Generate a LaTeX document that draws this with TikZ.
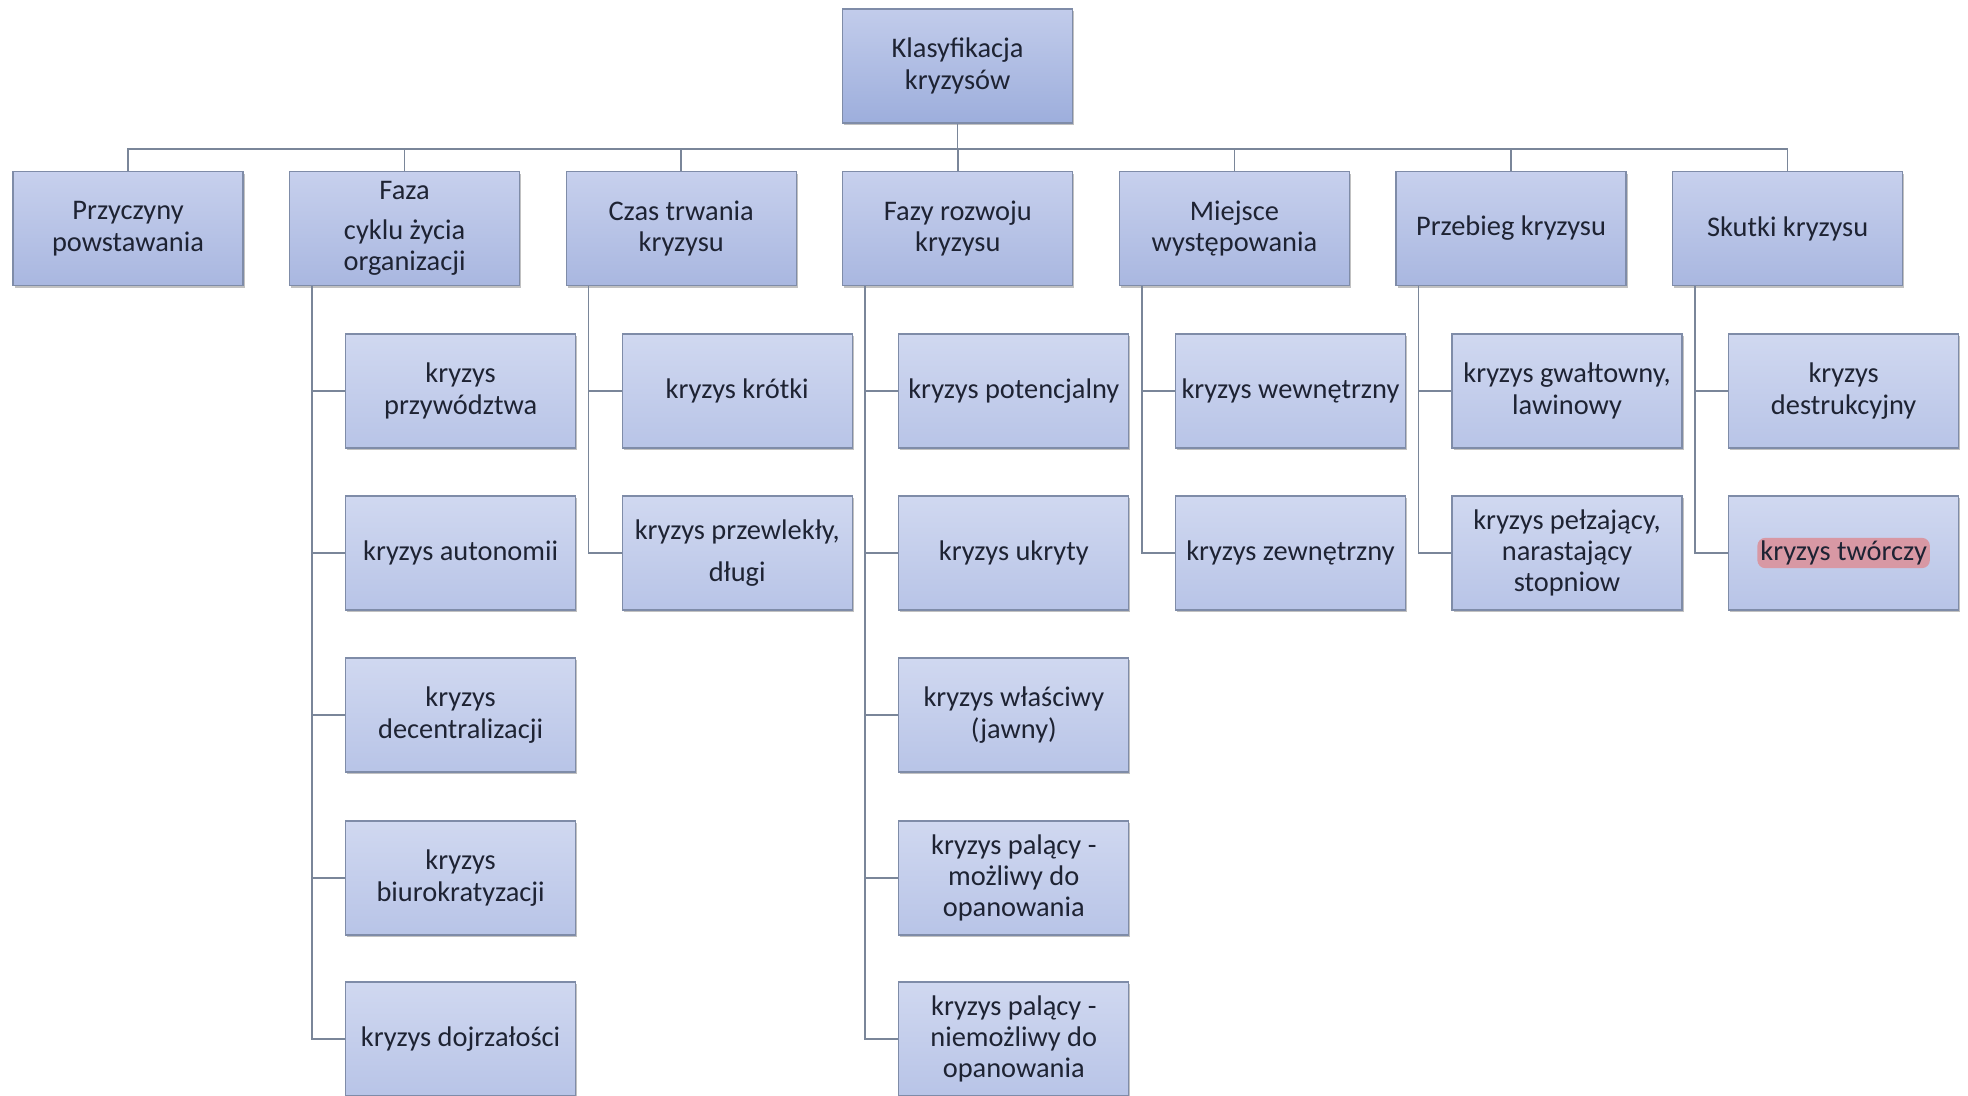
\documentclass[tikz,border=0pt]{standalone}
\usepackage{fontspec}
\newfontfamily\carlito{Carlito}
\newcommand\kfont{\carlito\fontsize{14.2}{15.7}\selectfont}
\usepackage{tikz}
\usetikzlibrary{shadows}
\definecolor{roottop}{HTML}{C2CCEB}
\definecolor{rootbot}{HTML}{9DAEDC}
\definecolor{boxtop}{HTML}{C7D0ED}
\definecolor{boxbot}{HTML}{A9B7E0}
\definecolor{subtop}{HTML}{D0D8F0}
\definecolor{subbot}{HTML}{B8C4E7}
\definecolor{boxline}{HTML}{7F8CA8}
\definecolor{linkc}{HTML}{7A8699}
\definecolor{txt}{HTML}{1E2333}
\definecolor{hl}{HTML}{D898A4}

\tikzset{
  box/.style={draw=boxline, line width=0.6pt, top color=boxtop, bottom color=boxbot,
    minimum width=115pt, minimum height=57pt, inner sep=2pt, align=center,
    font=\kfont, text=txt,
    drop shadow={shadow xshift=0.8pt, shadow yshift=-1.2pt, opacity=0.35, fill=black!70}},
  root/.style={box, top color=roottop, bottom color=rootbot},
  sub/.style={box, top color=subtop, bottom color=subbot},
  link/.style={draw=linkc, line width=0.75pt},
  hilite/.style={fill=hl, rounded corners=4pt, inner sep=1.5pt, font=\kfont, text=txt}
}

\begin{document}
\begin{tikzpicture}[x=0.5pt,y=-0.5pt]
\useasboundingbox (0,0) rectangle (1968,1096);

\node[root] (klas) at (957.6,66) {Klasyfikacja\\kryzysów};
\coordinate (bus) at (957.6,149);

\node[box] (k0) at (128,228.5) {Przyczyny\\powstawania};
\node[box] (k1) at (404.6,228.5) {Faza\\[4pt]cyklu życia\\organizacji};
\node[box] (k2) at (681.2,228.5) {Czas trwania\\kryzysu};
\node[box] (k3) at (957.8,228.5) {Fazy rozwoju\\kryzysu};
\node[box] (k4) at (1234.4,228.5) {Miejsce\\występowania};
\node[box] (k5) at (1511,228.5) {Przebieg kryzysu};
\node[box] (k6) at (1787.6,228.5) {Skutki kryzysu};

% faza cyklu zycia
\node[sub] (k1a) at (460.6,391) {kryzys\\przywództwa};
\node[sub] (k1b) at (460.6,553) {kryzys autonomii};
\node[sub] (k1c) at (460.6,715) {kryzys\\decentralizacji};
\node[sub] (k1d) at (460.6,878) {kryzys\\biurokratyzacji};
\node[sub] (k1e) at (460.6,1039) {kryzys dojrzałości};

% czas trwania
\node[sub] (k2a) at (737.2,391) {kryzys krótki};
\node[sub] (k2b) at (737.2,553) {kryzys przewlekły,\\[5pt]długi};

% fazy rozwoju
\node[sub] (k3a) at (1013.8,391) {kryzys potencjalny};
\node[sub] (k3b) at (1013.8,553) {kryzys ukryty};
\node[sub] (k3c) at (1013.8,715) {kryzys właściwy\\(jawny)};
\node[sub] (k3d) at (1013.8,878) {kryzys palący -\\możliwy do\\opanowania};
\node[sub] (k3e) at (1013.8,1039) {kryzys palący -\\niemożliwy do\\opanowania};

% miejsce
\node[sub] (k4a) at (1290.4,391) {kryzys wewnętrzny};
\node[sub] (k4b) at (1290.4,553) {kryzys zewnętrzny};

% przebieg
\node[sub] (k5a) at (1567,391) {kryzys gwałtowny,\\lawinowy};
\node[sub] (k5b) at (1567,553) {kryzys pełzający,\\narastający\\stopniow};

% skutki
\node[sub] (k6a) at (1843.6,391) {kryzys\\destrukcyjny};
\node[sub] (k6b) at (1843.6,553) {};
\node[hilite] (tworczy) at (k6b.center) {kryzys twórczy};

\draw[link] (klas.south) -- (bus);
\foreach \i in {0,...,6}
  \draw[link] (bus) -| (k\i.north);

\foreach \c in {a,b,c,d,e}
  \draw[link] ([xshift=11.5pt]k1.south west) |- (k1\c.west);
\foreach \c in {a,b}
  \draw[link] ([xshift=11.5pt]k2.south west) |- (k2\c.west);
\foreach \c in {a,b,c,d,e}
  \draw[link] ([xshift=11.5pt]k3.south west) |- (k3\c.west);
\foreach \k in {4,5,6}{
  \foreach \c in {a,b}
    \draw[link] ([xshift=11.5pt]k\k.south west) |- (k\k\c.west);
}
\end{tikzpicture}
\end{document}
